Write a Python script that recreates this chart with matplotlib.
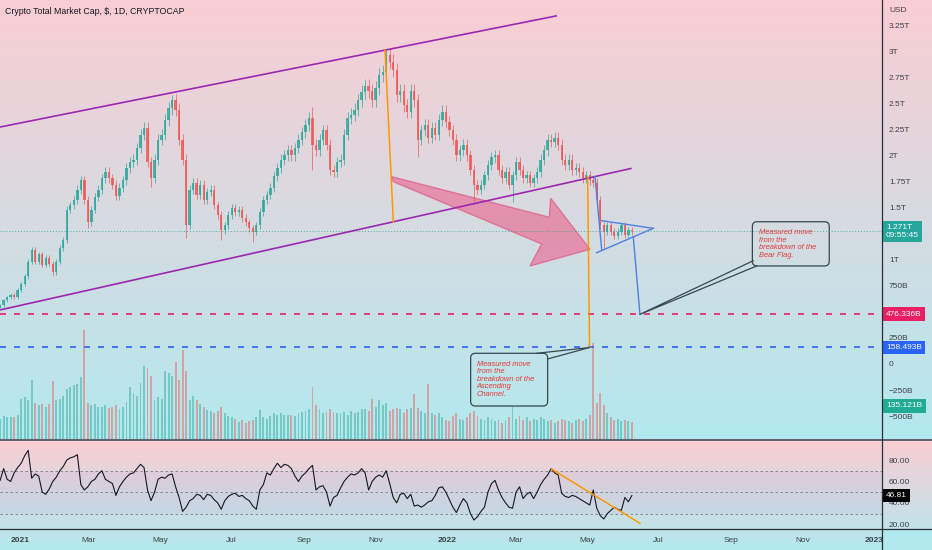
import numpy as np
import matplotlib
matplotlib.use('Agg')
import matplotlib.pyplot as plt
from matplotlib.patches import Polygon, FancyBboxPatch, Rectangle
from matplotlib.lines import Line2D
from matplotlib import transforms

plt.rcParams['font.family'] = ['Liberation Sans', 'DejaVu Sans']

## DATA (3-day candles, day 0 = 2021-01-01, values in trillions of USD)
start_day = -17
step_days = 3
first_open = 0.55
close = [0.565, 0.61, 0.64, 0.66, 0.64, 0.71, 0.77, 0.84, 0.98, 1.09,
         0.98, 1.05, 0.95, 1.02, 0.96, 0.88, 0.98, 1.11, 1.19, 1.48,
         1.52, 1.57, 1.67, 1.76, 1.57, 1.36, 1.48, 1.60, 1.67, 1.78,
         1.84, 1.78, 1.72, 1.61, 1.69, 1.76, 1.88, 1.94, 1.96, 2.07,
         2.20, 2.26, 1.94, 1.78, 1.96, 2.15, 2.20, 2.34, 2.45, 2.53,
         2.44, 2.15, 1.96, 1.33, 1.67, 1.74, 1.62, 1.72, 1.57, 1.65,
         1.67, 1.52, 1.43, 1.28, 1.33, 1.43, 1.50, 1.46, 1.48, 1.40,
         1.36, 1.30, 1.27, 1.33, 1.46, 1.57, 1.62, 1.69, 1.80, 1.88,
         1.96, 2.00, 2.05, 2.00, 2.07, 2.15, 2.22, 2.29, 2.36, 2.10,
         2.05, 2.15, 2.24, 2.10, 1.86, 1.84, 1.94, 1.96, 2.20, 2.36,
         2.39, 2.44, 2.53, 2.61, 2.67, 2.62, 2.53, 2.65, 2.77, 2.80,
         2.96, 2.90, 2.82, 2.58, 2.62, 2.48, 2.42, 2.62, 2.53, 2.15,
         2.24, 2.29, 2.17, 2.26, 2.20, 2.34, 2.42, 2.32, 2.24, 2.15,
         2.00, 2.05, 2.10, 2.00, 1.86, 1.72, 1.67, 1.72, 1.81, 1.91,
         1.98, 2.00, 1.86, 1.78, 1.84, 1.72, 1.81, 1.94, 1.86, 1.78,
         1.81, 1.74, 1.78, 1.84, 1.96, 2.05, 2.15, 2.13, 2.17, 2.10,
         1.96, 1.91, 1.96, 1.86, 1.88, 1.84, 1.78, 1.81, 1.76, 1.74,
         1.57, 1.33, 1.27, 1.33, 1.27, 1.23, 1.27, 1.33, 1.24, 1.28,
         1.271]
wick_pad = 0.025
long_wicks = {25: (1.30, None), 43: (1.70, None), 49: (None, 2.58), 53: (1.21, None),
              63: (1.19, None), 72: (1.17, None), 89: (1.86, 2.46), 110: (None, 3.01),
              119: (1.98, None), 135: (1.55, None), 146: (1.55, None), 172: (1.10, None)}

volume = [160, 180, 170, 175, 170, 190, 310, 320, 300, 450,
          280, 260, 270, 250, 270, 440, 300, 310, 330, 380,
          400, 410, 420, 470, 825, 280, 260, 270, 250, 250,
          260, 240, 250, 260, 230, 250, 285, 400, 350, 330,
          430, 555, 540, 480, 300, 320, 310, 515, 500, 480,
          585, 450, 675, 520, 300, 330, 300, 270, 250, 225,
          220, 200, 220, 250, 200, 180, 170, 160, 135, 150,
          130, 140, 150, 170, 225, 170, 160, 180, 200, 190,
          200, 190, 190, 185, 180, 200, 210, 220, 230, 400,
          260, 230, 200, 210, 230, 210, 200, 200, 210, 190,
          220, 200, 210, 230, 230, 220, 310, 250, 300, 260,
          280, 220, 230, 240, 230, 200, 230, 240, 345, 240,
          220, 200, 420, 200, 190, 200, 170, 150, 140, 180,
          200, 160, 150, 170, 200, 220, 180, 160, 150, 170,
          160, 140, 150, 130, 150, 170, 250, 160, 180, 150,
          170, 140, 160, 150, 170, 160, 140, 150, 130, 140,
          160, 150, 140, 130, 150, 160, 140, 160, 190, 730,
          280, 350, 260, 200, 170, 150, 160, 140, 150, 140,
          135.121]

rsi = [61, 72, 62, 60, 68, 73, 77, 84, 89, 63,
       67, 65, 50, 48, 53, 60, 64, 70, 74, 80,
       82, 83, 85, 57, 52, 55, 60, 62, 67, 70,
       62, 60, 58, 47, 55, 60, 64, 67, 68, 72,
       76, 73, 52, 42, 50, 62, 64, 63, 66, 67,
       55, 45, 32, 36, 42, 44, 48, 47, 43, 48,
       47, 43, 40, 34, 42, 46, 48, 49, 46, 47,
       44, 42, 37, 34, 52, 57, 68, 66, 72, 77,
       73, 76, 75, 72, 65, 60, 65, 68, 72, 75,
       52, 55, 56, 50, 37, 45, 47, 54, 60, 64,
       67, 66, 68, 72, 68, 52, 60, 64, 66, 64,
       70, 58, 45, 40, 48, 49, 44, 48, 37, 38,
       36, 38, 41, 42, 47, 54, 55, 50, 43, 36,
       31, 38, 44, 40, 30, 24, 27, 32, 36, 50,
       58, 61, 52, 45, 40, 36, 35, 50, 55, 44,
       48, 50, 44, 50, 57, 62, 66, 72, 68, 66,
       49, 46, 45, 47, 46, 44, 42, 40, 38, 52,
       35, 28, 25, 30, 33, 36, 34, 33, 45, 41,
       46.81]

last_price = 1.271
target_flag = 0.476336
target_channel = 0.158493
last_volume_label = '135.121B'

## DRAWING TOOLS (day, value)
upper_channel = [(-17.1, 2.272), (459.0, 3.339)]
lower_channel = [(-17.1, 0.518), (522.8, 1.876)]
orange_leg1 = [(312.0, 3.011), (319.1, 1.364)]
orange_leg2 = [(485.2, 1.796), (486.8, 0.158)]
arrow_pts = [(317.7, 1.796), (452.4, 1.407), (453.6, 1.589), (487.2, 1.100),
             (435.9, 0.940), (445.9, 1.151), (319.1, 1.748)]
flag_pole = [(491.5, 1.796), (497.2, 1.093)]
flag_top = [(497.2, 1.374), (541.3, 1.301)]
flag_bot = [(492.9, 1.067), (541.3, 1.301)]
flag_leg = [(524.2, 1.221), (529.9, 0.476)]
rsi_trend = [(454.4, 71.6), (529.9, 20.9)]

note1_box = (626.0, 0.940, 691.7, 1.364)
note1_xy = (631.6, 1.294)
note1_tail = [(626.7, 0.990), (529.9, 0.476), (629.7, 0.940)]
note1_text = 'Measured move\nfrom the\nbreakdown of the\nBear Flag.'
note2_box = (385.2, -0.4027, 451.0, 0.1026)
note2_xy = (390.3, 0.032)
note2_tail = [(441.9, 0.103), (486.8, 0.158), (451.0, 0.048)]
note2_text = 'Measured move\nfrom the\nbreakdown of the\nAscending\nChannel.'

price_ticks = [3.25, 3.0, 2.75, 2.5, 2.25, 2.0, 1.75, 1.5, 1.0, 0.75, 0.25, 0.0, -0.25, -0.5]
price_tick_labels = ['3.25T', '3T', '2.75T', '2.5T', '2.25T', '2T', '1.75T', '1.5T', '1T',
                     '750B', '250B', '0', '\u2212250B', '\u2212500B']
rsi_ticks = [80, 60, 40, 20]
month_days = [0, 59, 120, 181, 243, 304, 365, 424, 485, 546, 608, 669, 730]
month_labels = ['2021', 'Mar', 'May', 'Jul', 'Sep', 'Nov', '2022', 'Mar', 'May', 'Jul', 'Sep', 'Nov', '2023']

## COLOURS
UP = '#26a69a'
DOWN = '#ef5350'
TXT = '#3d4048'

W, H = 932, 550
fig = plt.figure(figsize=(W / 100, H / 100), dpi=100)

# background gradients (price pane and rsi pane)
bg = fig.add_axes([0, 0, 1, 1], zorder=-10)
bg.axis('off')
pink = np.array([250, 205, 212]) / 255
cyan = np.array([178, 233, 238]) / 255
grad = np.zeros((H, 1, 3))
for r in range(H):
    t = r / 440 if r < 440 else (r - 440) / 110
    grad[r, 0] = pink * (1 - t) + cyan * t
bg.imshow(grad, aspect='auto', extent=[0, 1, 0, 1])
bg.set_xlim(0, 1)
bg.set_ylim(0, 1)

x_lo, x_hi = -17.1, 736.8
main_rect = [0, 110 / H, 882 / W, 440 / H]

# volume (own scale, behind price)
axv = fig.add_axes(main_rect, zorder=1)
axv.set_facecolor('none')
axv.axis('off')
axv.set_xlim(x_lo, x_hi)
axv.set_ylim(0, 3300)

ax = fig.add_axes(main_rect, zorder=2)
ax.set_facecolor('none')
ax.set_xlim(x_lo, x_hi)
ax.set_ylim(-0.7287, 3.490)

days = np.arange(len(close)) * step_days + start_day
c = np.array(close)
o = np.array([first_open] + close[:-1])
hi = np.maximum(o, c) * (1 + wick_pad)
lo = np.minimum(o, c) * (1 - wick_pad)
for k, (wl, wh) in long_wicks.items():
    if wl is not None:
        lo[k] = wl
    if wh is not None:
        hi[k] = wh
cols = [UP if cc >= oo else DOWN for oo, cc in zip(o, c)]

axv.bar(days, volume, width=1.6, color=cols, alpha=0.45, lw=0)

ax.vlines(days, lo, hi, colors=cols, lw=0.6, alpha=0.8)
ax.bar(days, np.maximum(np.abs(c - o), 0.008), bottom=np.minimum(o, c),
       width=2.0, color=cols, alpha=0.8, lw=0)

# horizontal levels
ax.axhline(last_price, color=UP, ls=(0, (1, 2)), lw=0.7, alpha=0.8)
ax.axhline(target_flag, color='#e91e63', ls=(0, (3.6, 4.8)), lw=1.2)
ax.axhline(target_channel, color='#2962ff', ls=(0, (3.6, 4.8)), lw=1.2)

def seg(a, pts, **kw):
    a.plot([p[0] for p in pts], [p[1] for p in pts], **kw)

seg(ax, upper_channel, color='#9c27b0', lw=1.2, solid_capstyle='butt')
seg(ax, lower_channel, color='#9c27b0', lw=1.2, solid_capstyle='butt')
seg(ax, orange_leg1, color='#ff9800', lw=1.1)
seg(ax, orange_leg2, color='#ff9800', lw=1.1)
ax.add_patch(Polygon(arrow_pts, closed=True, fc='#e8759a', ec='#e05a88', alpha=0.72, lw=1))
for pts in (flag_pole, flag_top, flag_bot, flag_leg):
    seg(ax, pts, color='#4f7fe0', lw=1.0)

# callouts
asp = (3.490 + 0.7287) / 440 / ((x_hi - x_lo) / 882)
for box, xy, tail, txt in ((note1_box, note1_xy, note1_tail, note1_text),
                           (note2_box, note2_xy, note2_tail, note2_text)):
    x0, y0, x1, y1 = box
    ax.add_patch(FancyBboxPatch((x0, y0), x1 - x0, y1 - y0,
                                boxstyle='round,pad=0,rounding_size=4',
                                mutation_aspect=asp, fc='none', ec='#37474f', lw=0.9))
    seg(ax, tail, color='#37474f', lw=0.9)
    ax.text(xy[0], xy[1], txt, fontsize=5.4, style='italic', color='#e53935',
            ha='left', va='top', linespacing=1.1)

for s in ('top', 'left', 'bottom', 'right'):
    ax.spines[s].set_visible(False)
ax.set_xticks([])
ax.yaxis.tick_right()
ax.set_yticks(price_ticks)
ax.set_yticklabels(price_tick_labels)
ax.tick_params(axis='y', length=0, pad=5, labelsize=6, labelcolor=TXT)

# RSI pane
axr = fig.add_axes([0, 21 / H, 882 / W, 89 / H], zorder=2)
axr.set_facecolor('none')
axr.set_xlim(x_lo, x_hi)
axr.set_ylim(15.6, 98.7)
axr.axhspan(30, 70, color='#7e57c2', alpha=0.06, lw=0)
for lvl in (70, 50, 30):
    axr.axhline(lvl, color='#787b86', ls=(0, (3, 3)), lw=0.6)
axr.plot(days, rsi, color='#131722', lw=0.8)
seg(axr, rsi_trend, color='#ff9800', lw=1.1)
for s in ('top', 'left', 'bottom', 'right'):
    axr.spines[s].set_visible(False)
axr.set_xticks([])
axr.yaxis.tick_right()
axr.set_yticks(rsi_ticks)
axr.set_yticklabels(['%.2f' % v for v in rsi_ticks])
axr.tick_params(axis='y', length=0, pad=5, labelsize=6, labelcolor=TXT)

# time axis labels
tr_x = transforms.blended_transform_factory(axr.transData, fig.transFigure)
for d, lab in zip(month_days, month_labels):
    axr.text(d, 10 / H, lab, transform=tr_x, ha='center', va='center', fontsize=6,
             color=TXT, fontweight='bold' if lab[0] == '2' else 'normal')

# the price scale column hides whatever time label runs past it
fig.add_artist(Rectangle((883 / W, 0), 49 / W, 20.5 / H, transform=fig.transFigure,
                         fc=cyan, ec='none', zorder=5))

# price tags on the scale
def tag(a, val, txt, fc, fs=6):
    tr = transforms.blended_transform_factory(a.transAxes, a.transData)
    a.text(1.0045, val, txt, transform=tr, ha='left', va='center', fontsize=fs,
           color='white', bbox=dict(boxstyle='square,pad=0.4', fc=fc, ec='none'),
           clip_on=False, zorder=20, linespacing=1.15)

tag(ax, last_price, '1.271T\n09:55:45', UP)
tag(ax, target_flag, '476.336B', '#e91e63')
tag(ax, target_channel, '158.493B', '#2962ff')
tag(ax, -0.5 + 0.1, last_volume_label, '#22ab94')
tag(axr, rsi[-1], '%.2f' % rsi[-1], '#000000')

# title and currency
fig.text(5 / W, 1 - 12 / H, 'Crypto Total Market Cap, $, 1D, CRYPTOCAP', fontsize=6.3,
         color='#131722', va='center', ha='left')
fig.text(889 / W, 1 - 10 / H, 'USD', fontsize=6, color=TXT, va='center', ha='left')

# pane separators and scale border
fig.add_artist(Line2D([0, 1], [110 / H, 110 / H], transform=fig.transFigure, color='#5d606b', lw=1.4, zorder=6))
fig.add_artist(Line2D([0, 1], [21 / H, 21 / H], transform=fig.transFigure, color='#2a2e39', lw=0.9, zorder=6))
fig.add_artist(Line2D([882 / W, 882 / W], [0, 1], transform=fig.transFigure, color='#2a2e39', lw=0.9, zorder=6))

fig.savefig('out.png', dpi=100)
